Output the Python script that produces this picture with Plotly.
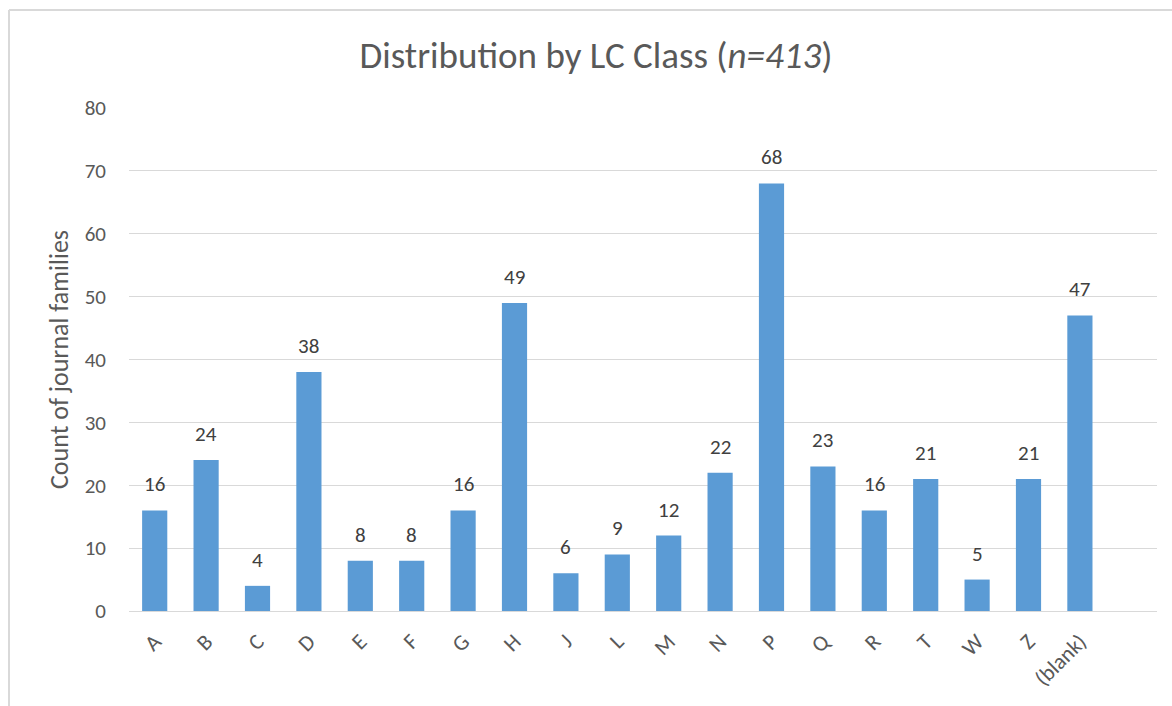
import plotly.graph_objects as go

categories = ["A", "B", "C", "D", "E", "F", "G", "H", "J", "L", "M", "N", "P", "Q", "R", "T", "W", "Z", "(blank)"]
counts = [16, 24, 4, 38, 8, 8, 16, 49, 6, 9, 12, 22, 68, 23, 16, 21, 5, 21, 47]
y_ticks = [0, 10, 20, 30, 40, 50, 60, 70, 80]

FONT = "Carlito, Lato, sans-serif"
BAR = "#5B9BD5"
GRAY = "#595959"

xs = list(range(len(categories)))

fig = go.Figure()
fig.add_trace(go.Bar(
    x=xs,
    y=counts,
    marker=dict(color=BAR, line=dict(width=0)),
    width=0.49,
    hoverinfo="x+y",
))

annotations = [
    dict(x=x, y=v, xref="x", yref="y", text=str(v), showarrow=False,
         yanchor="bottom", yshift=11,
         font=dict(family=FONT, size=21, color="#404040"))
    for x, v in zip(xs, counts)
]

L, R, T, B = 129, 15, 108, 95
W, H = 1172, 706
pw = W - L - R
ph = H - T - B

def px_x(px):
    return (px - L) / pw

def px_y(py):
    return (H - B - py) / ph

fig.update_layout(
    width=W, height=H,
    margin=dict(l=L, r=R, t=T, b=B),
    paper_bgcolor="white",
    plot_bgcolor="white",
    showlegend=False,
    font=dict(family=FONT, color=GRAY),
    title=dict(
        text="Distribution by LC Class (<i>n=413</i>)",
        font=dict(family=FONT, size=37, color=GRAY),
        x=596 / W, xref="container", xanchor="center",
        y=1 - 55 / H, yref="container", yanchor="middle",
    ),
    xaxis=dict(
        range=[-0.5, 19.5],
        tickmode="array",
        tickvals=xs,
        ticktext=categories,
        tickangle=-45,
        tickfont=dict(family=FONT, size=22, color=GRAY),
        ticklabelstandoff=8,
        showgrid=False,
        showline=True, linecolor="#d9d9d9", linewidth=1,
        ticks="",
        zeroline=False,
    ),
    yaxis=dict(
        range=[0, 80],
        tickmode="array",
        tickvals=y_ticks,
        ticktext=[str(v) for v in y_ticks],
        tickfont=dict(family=FONT, size=21, color=GRAY),
        showgrid=True, gridcolor="#d9d9d9", gridwidth=1,
        zeroline=False,
        showline=False,
        ticks="",
        ticklabelstandoff=22,
        title=dict(text="Count of journal families", font=dict(family=FONT, size=26, color=GRAY), standoff=8),
    ),
    annotations=annotations,
    shapes=[
        dict(type="line", xref="paper", yref="paper",
             x0=px_x(9), x1=px_x(1200), y0=px_y(10), y1=px_y(10),
             line=dict(color="#d9d9d9", width=2), layer="above"),
        dict(type="line", xref="paper", yref="paper",
             x0=px_x(9), x1=px_x(9), y0=px_y(10), y1=px_y(730),
             line=dict(color="#d9d9d9", width=2), layer="above"),
    ],
)

fig.write_html("out.html", config={"displayModeBar": False},
               post_script="document.body.style.margin='0';")
